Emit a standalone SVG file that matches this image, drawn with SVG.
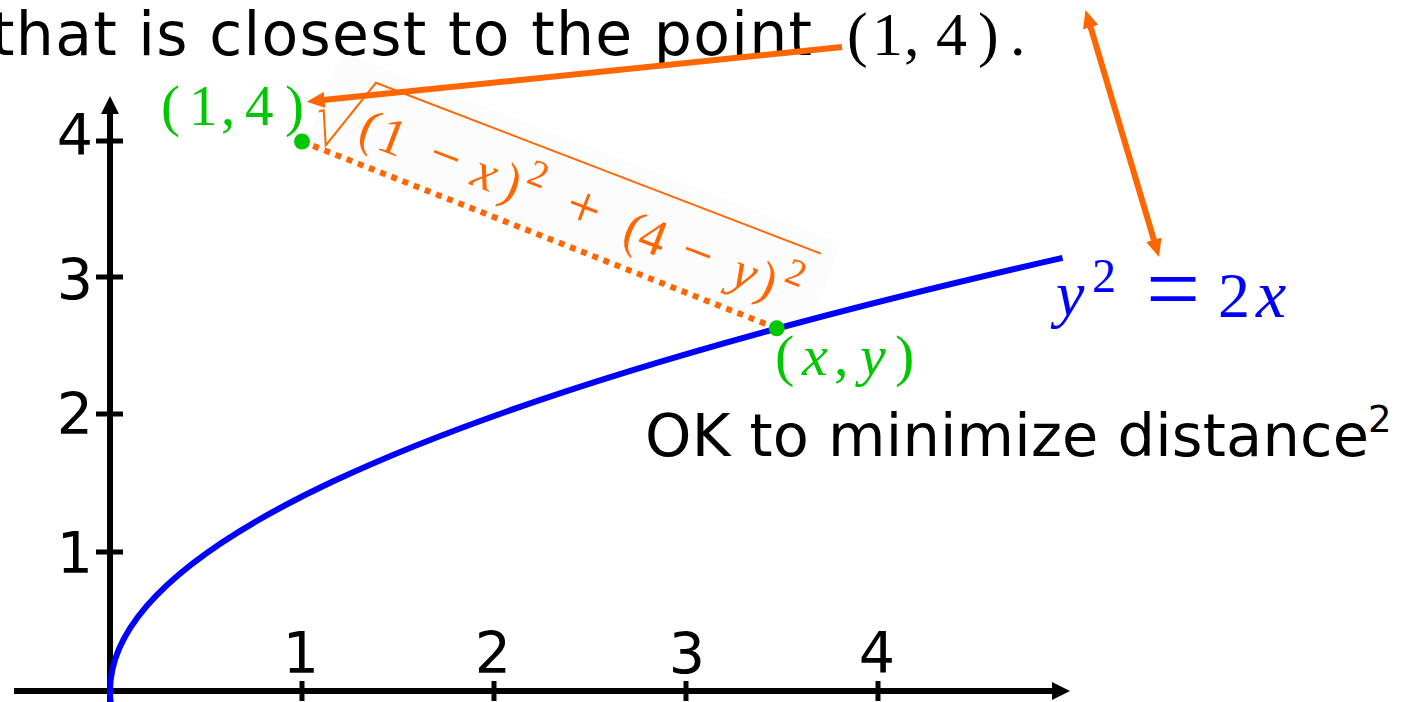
<svg xmlns="http://www.w3.org/2000/svg" width="1402" height="702" viewBox="0 0 1402 702">
<defs>
<marker id="ah-orange" viewBox="0 0 18 16" refX="4" refY="8" markerWidth="18" markerHeight="16" markerUnits="userSpaceOnUse" orient="auto-start-reverse"><path d="M0,0 L18,8 L0,16 z" fill="#ff6600"/></marker>
<marker id="ah-black" viewBox="0 0 18 18" refX="4" refY="9" markerWidth="18" markerHeight="18" markerUnits="userSpaceOnUse" orient="auto"><path d="M0,0 L18,9 L0,18 z" fill="#000"/></marker>
</defs>
<style>
.sans{font-family:"DejaVu Sans","Liberation Sans",sans-serif}
.serif{font-family:"Liberation Serif","DejaVu Serif",serif}
.it{font-style:italic}
.axis{stroke:#000;stroke-width:6;fill:none}
.tick{stroke:#000;stroke-width:5}
.conn{stroke:#ff6600;stroke-width:6;fill:none}
.thin{stroke:#ff6600;stroke-width:2;fill:none}
.dot{fill:#00c800}
.green{fill:#00c800}
.orange{fill:#ff6600}
.blue{fill:#0000ff}
</style>
<rect width="1402" height="702" fill="#fff"/>

<g id="title">
<text class="sans" x="-9" y="55" font-size="60" textLength="821" lengthAdjust="spacing">that is closest to the point</text>
<text class="serif" y="55" font-size="62"><tspan x="847">(</tspan><tspan x="872">1</tspan><tspan x="904">,</tspan><tspan x="936">4</tspan><tspan x="978">)</tspan><tspan x="1010">.</tspan></text>
</g>

<g id="axes">
<path class="axis" d="M14,691 L1056,691" marker-end="url(#ah-black)"/>
<path class="axis" d="M110,706 L110,110" marker-end="url(#ah-black)"/>
<path class="tick" d="M302,681 V701 M494,681 V701 M686,681 V701 M878,681 V701"/>
<path class="tick" d="M96,141 H123 M96,277 H123 M96,414 H123 M96,552 H123"/>
<g class="sans" font-size="57" text-anchor="end">
<text x="93" y="155">4</text>
<text x="93" y="300">3</text>
<text x="93" y="434">2</text>
<text x="93" y="573">1</text>
</g>
<g class="sans" font-size="57" text-anchor="middle">
<text x="301" y="673">1</text>
<text x="493" y="673">2</text>
<text x="687" y="674">3</text>
<text x="877" y="673">4</text>
</g>
</g>

<g id="sqrt-label" transform="translate(302,141.5) rotate(21)">
<rect x="4" y="-98" width="536" height="100" rx="12" fill="#fcfcfc"/>
<path class="thin" d="M5,-34 L9,-37 L23.5,-5 L48,-81.3 L524.5,-81.3"/>
<text class="serif orange" font-size="52" y="-20"><tspan x="50">(</tspan><tspan x="70">1</tspan><tspan x="124" font-size="55">−</tspan><tspan x="171" class="it">x</tspan><tspan x="202">)</tspan><tspan x="223" y="-42" font-size="38">2</tspan><tspan x="270" y="-20" font-size="60">+</tspan><tspan x="333">(</tspan><tspan x="349">4</tspan><tspan x="394" font-size="55">−</tspan><tspan x="449" class="it">y</tspan><tspan x="476">)</tspan><tspan x="499" y="-42" font-size="38">2</tspan></text>
</g>

<g id="curve">
<path d="M110.96,704.75 Q79.76,481.31 1062.56,257.88" fill="none" stroke="#0000ff" stroke-width="6"/>
</g>

<g id="connectors">
<path d="M302,141.5 L776.7,328.3" fill="none" stroke="#ff6600" stroke-width="6" stroke-dasharray="6 6"/>
<path class="conn" d="M842,47 L320.6,100.3" marker-end="url(#ah-orange)"/>
<path class="conn" d="M1089.5,23.4 L1155,243.6" marker-start="url(#ah-orange)" marker-end="url(#ah-orange)"/>
</g>

<g id="point-1-4">
<circle class="dot" cx="302" cy="141.5" r="8"/>
<text class="serif green" y="125" font-size="57"><tspan x="161">(</tspan><tspan x="189">1</tspan><tspan x="221">,</tspan><tspan x="245">4</tspan><tspan x="285">)</tspan></text>
</g>

<g id="point-xy">
<circle class="dot" cx="776.7" cy="328.3" r="8"/>
<text class="serif green" y="375" font-size="58"><tspan x="775">(</tspan><tspan x="802" class="it">x</tspan><tspan x="834">,</tspan><tspan x="860" class="it">y</tspan><tspan x="895">)</tspan></text>
</g>

<g id="equation">
<text class="serif blue" font-size="64"><tspan x="1056" y="315" class="it">y</tspan><tspan x="1092" y="292" font-size="48">2</tspan><tspan x="1146" y="321" font-size="96">=</tspan><tspan x="1218" y="317">2</tspan><tspan x="1256" y="317" class="it" font-size="68">x</tspan></text>
</g>

<g id="note">
<text class="sans" x="645" y="456" font-size="59" textLength="724" lengthAdjust="spacing">OK to minimize distance</text>
<text class="sans" x="1368" y="432" font-size="37">2</text>
</g>
</svg>
